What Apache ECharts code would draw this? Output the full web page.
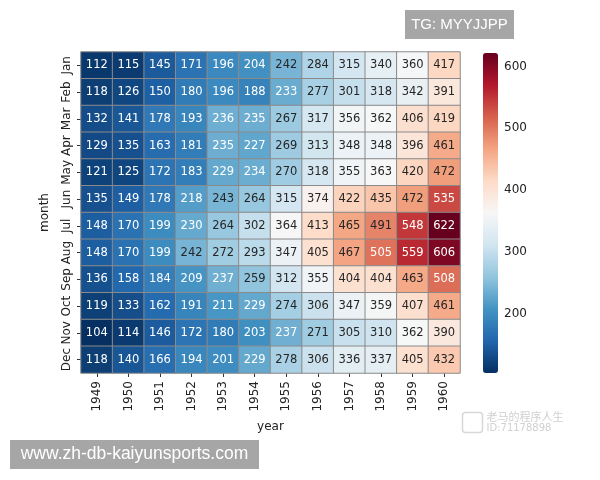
<!DOCTYPE html>
<html>
<head>
<meta charset="utf-8">
<script src="https://cdn.jsdelivr.net/npm/echarts@6/dist/echarts.min.js"></script>
<style>
  html, body { margin: 0; padding: 0; background: #fff; }
  #main { width: 600px; height: 480px; }
</style>
</head>
<body>
<div id="main"></div>
<script>
var years = ['1949', '1950', '1951', '1952', '1953', '1954', '1955', '1956', '1957', '1958', '1959', '1960'];
var months = ['Jan', 'Feb', 'Mar', 'Apr', 'May', 'Jun', 'Jul', 'Aug', 'Sep', 'Oct', 'Nov', 'Dec'];

// passengers per year, Jan..Dec
var y1949 = [112, 118, 132, 129, 121, 135, 148, 148, 136, 119, 104, 118];
var y1950 = [115, 126, 141, 135, 125, 149, 170, 170, 158, 133, 114, 140];
var y1951 = [145, 150, 178, 163, 172, 178, 199, 199, 184, 162, 146, 166];
var y1952 = [171, 180, 193, 181, 183, 218, 230, 242, 209, 191, 172, 194];
var y1953 = [196, 196, 236, 235, 229, 243, 264, 272, 237, 211, 180, 201];
var y1954 = [204, 188, 235, 227, 234, 264, 302, 293, 259, 229, 203, 229];
var y1955 = [242, 233, 267, 269, 270, 315, 364, 347, 312, 274, 237, 278];
var y1956 = [284, 277, 317, 313, 318, 374, 413, 405, 355, 306, 271, 306];
var y1957 = [315, 301, 356, 348, 355, 422, 465, 467, 404, 347, 305, 336];
var y1958 = [340, 318, 362, 348, 363, 435, 491, 505, 404, 359, 310, 337];
var y1959 = [360, 342, 406, 396, 420, 472, 548, 559, 463, 407, 362, 405];
var y1960 = [417, 391, 419, 461, 472, 535, 622, 606, 508, 461, 390, 432];
var byYear = [y1949, y1950, y1951, y1952, y1953, y1954, y1955, y1956, y1957, y1958, y1959, y1960];

var cbTicks = [200, 300, 400, 500, 600];

var vMin = 104, vMax = 622;
var rdbu_r = ['#053061', '#2166ac', '#4393c3', '#92c5de', '#d1e5f0', '#f7f7f7',
              '#fddbc7', '#f4a582', '#d6604d', '#b2182b', '#67001f'];

var data = [];
byYear.forEach(function (vals, xi) {
  vals.forEach(function (v, yi) {
    var light = v < 240 || v >= 505;
    data.push({
      value: [xi, yi, v],
      label: { color: light ? '#ffffff' : '#262626' }
    });
  });
});

var font = 'DejaVu Sans';
var chart = echarts.init(document.getElementById('main'));
chart.setOption({
  animation: false,
  backgroundColor: '#fff',
  textStyle: { fontFamily: font },
  grid: [
    { left: 81, right: 140, top: 52, height: 321 },
    { left: 483, width: 15, top: 53, height: 320 }
  ],
  xAxis: [
    {
      type: 'category',
      data: years,
      gridIndex: 0,
      name: 'year',
      nameLocation: 'middle',
      nameGap: 48,
      nameMoveOverlap: false,
      nameTextStyle: { fontSize: 12, color: '#222', fontFamily: font },
      axisLine: { show: false },
      axisTick: { show: true, alignWithLabel: true, interval: 0, length: 4, lineStyle: { color: '#333' } },
      axisLabel: { rotate: 90, interval: 0, fontSize: 12, color: '#222', margin: 8, fontFamily: font },
      splitLine: { show: false }
    },
    { type: 'value', gridIndex: 1, show: false, min: 0, max: 1 }
  ],
  yAxis: [
    {
      type: 'category',
      data: months,
      inverse: true,
      gridIndex: 0,
      name: 'month',
      nameLocation: 'middle',
      nameGap: 30,
      nameMoveOverlap: false,
      nameRotate: 90,
      nameTextStyle: { fontSize: 12, color: '#222', fontFamily: font },
      axisLine: { show: false },
      axisTick: { show: true, alignWithLabel: true, interval: 0, length: 4, lineStyle: { color: '#333' } },
      axisLabel: { rotate: 90, interval: 0, fontSize: 12, color: '#222', margin: 8, fontFamily: font },
      splitLine: { show: false }
    },
    {
      type: 'value',
      gridIndex: 1,
      position: 'right',
      min: vMin,
      max: vMax,
      axisLine: { show: false },
      axisTick: { show: true, length: 4, customValues: cbTicks, lineStyle: { color: '#333' } },
      axisLabel: { customValues: cbTicks, fontSize: 12, color: '#222', margin: 6, fontFamily: font },
      splitLine: { show: false }
    }
  ],
  visualMap: {
    type: 'continuous',
    seriesIndex: 0,
    min: vMin,
    max: vMax,
    calculable: false,
    realtime: false,
    text: null,
    showLabel: false,
    left: 483,
    top: 53,
    padding: 0,
    itemWidth: 15,
    itemHeight: 320,
    inRange: { color: rdbu_r }
  },
  series: [{
    type: 'heatmap',
    xAxisIndex: 0,
    yAxisIndex: 0,
    data: data,
    label: {
      show: true,
      fontSize: 11.5,
      fontFamily: font,
      formatter: function (p) { return p.value[2]; }
    },
    itemStyle: { borderColor: '#8a8a8a', borderWidth: 1 }
  }],
  graphic: [
    {
      type: 'group', left: 405, top: 10,
      children: [
        { type: 'rect', shape: { x: 0, y: 0, width: 109, height: 29 }, style: { fill: '#a6a6a6' } },
        { type: 'text', x: 54.5, y: 14.5, style: { text: 'TG: MYYJJPP', fill: '#fff', font: '15px "Liberation Sans"', align: 'center', verticalAlign: 'middle' } }
      ]
    },
    {
      type: 'group', left: 10, top: 440,
      children: [
        { type: 'rect', shape: { x: 0, y: 0, width: 249, height: 29 }, style: { fill: '#a6a6a6' } },
        { type: 'text', x: 124.5, y: 14.5, style: { text: 'www.zh-db-kaiyunsports.com', fill: '#fff', font: '17.5px "Liberation Sans"', align: 'center', verticalAlign: 'middle' } }
      ]
    },
    {
      type: 'group', left: 460, top: 410,
      children: [
        { type: 'rect', shape: { x: 0, y: 1, width: 20, height: 20, r: 3 }, style: { fill: 'none', stroke: '#d8d8d8', lineWidth: 1.5 } },
        { type: 'text', x: 24, y: 0, style: { text: '老马的程序人生', fill: '#d0d0d0', font: '11px "Noto Sans CJK SC"' } },
        { type: 'text', x: 24, y: 12, style: { text: 'ID:71178898', fill: '#d0d0d0', font: '10px "DejaVu Sans"' } }
      ]
    }
  ]
});
</script>
</body>
</html>
